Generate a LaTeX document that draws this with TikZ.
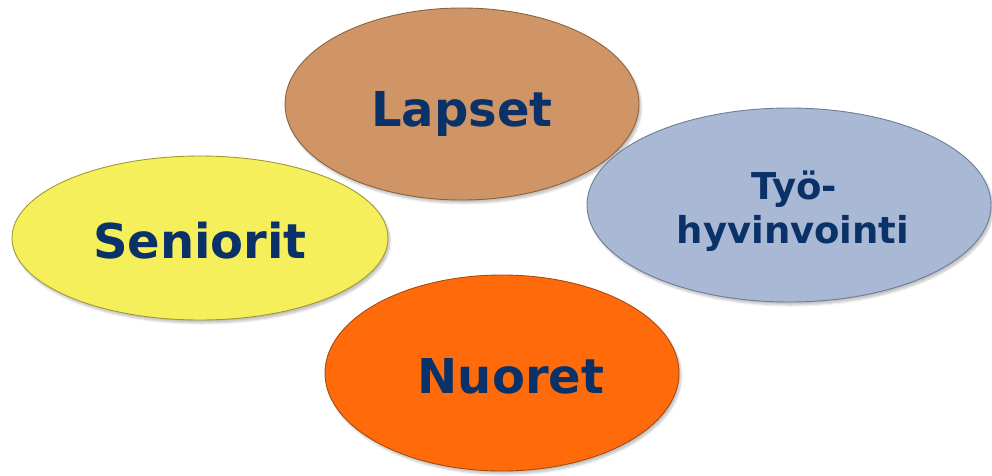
\documentclass[tikz,border=0pt]{standalone}
\usepackage{fontspec}
\setmainfont{DejaVu Sans}
\usetikzlibrary{shapes.geometric,shadows.blur}
\definecolor{navy}{HTML}{0A3268}
\definecolor{tanf}{HTML}{CF9566}
\definecolor{tand}{HTML}{8A6440}
\definecolor{bluef}{HTML}{A9B8D4}
\definecolor{blued}{HTML}{6E7C96}
\definecolor{yelf}{HTML}{F6EF5C}
\definecolor{yeld}{HTML}{A09A30}
\definecolor{oraf}{HTML}{FF6B0A}
\definecolor{orad}{HTML}{A84A10}
\tikzset{
  blob/.style={ellipse, inner sep=0pt, line width=0.9pt,
    blur shadow={shadow xshift=2pt, shadow yshift=-3pt, shadow blur steps=6, shadow opacity=25}},
  bigtxt/.style={anchor=base, text=navy, font=\fontsize{48}{52}\selectfont\bfseries, inner sep=0pt},
  midtxt/.style={anchor=base, text=navy, font=\fontsize{37}{44}\selectfont\bfseries, inner sep=0pt}
}
\begin{document}
\begin{tikzpicture}[x=1pt,y=-1pt]
\useasboundingbox (0,0) rectangle (992,475);
\node[blob, fill=tanf, draw=tand, minimum width=354pt, minimum height=192pt] (lapset) at (462,104) {};
\node[blob, fill=bluef, draw=blued, minimum width=404pt, minimum height=194pt] (tyo) at (789,205) {};
\node[blob, fill=yelf, draw=yeld, minimum width=376pt, minimum height=164pt] (seniorit) at (200,238) {};
\node[blob, fill=oraf, draw=orad, minimum width=354pt, minimum height=196pt] (nuoret) at (502,373) {};
\node[bigtxt] (tlapset) at (462,126) {Lapset};
\node[bigtxt] (tseniorit) at (200,258) {Seniorit};
\node[bigtxt] (tnuoret) at (511,393) {Nuoret};
\node[midtxt] (ttyo1) at (794,199) {Työ-};
\node[midtxt] (ttyo2) at (793,243) {hyvinvointi};
\end{tikzpicture}
\end{document}
